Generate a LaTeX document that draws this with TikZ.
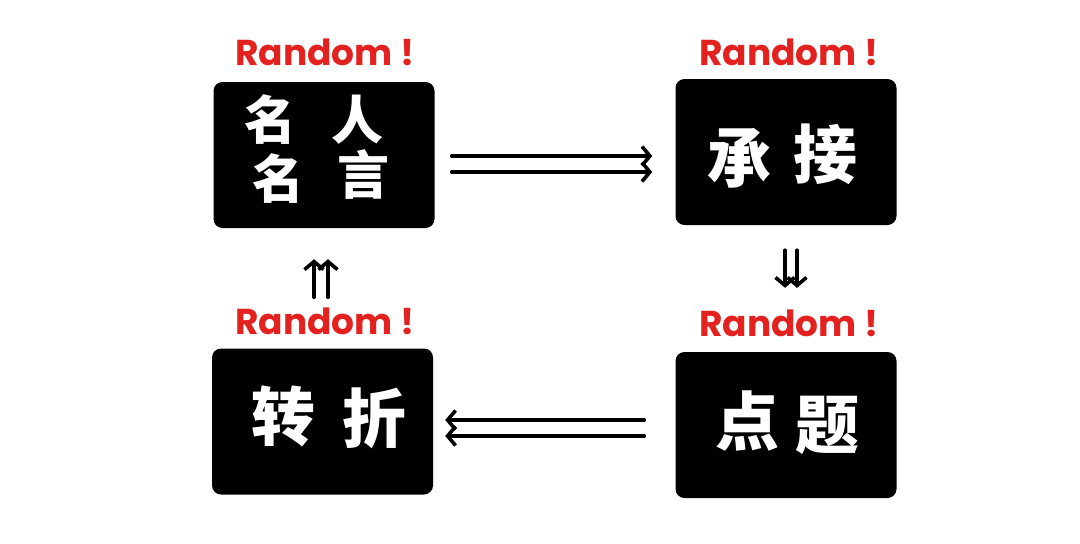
\documentclass[tikz,border=0pt]{standalone}
\usepackage{fontspec}
\setmainfont{Poppins}
\newfontfamily\cjk{Noto Sans CJK SC}
\usetikzlibrary{arrows.meta,calc}
\definecolor{rndred}{HTML}{E3221F}
\begin{document}
\begin{tikzpicture}[x=1pt,y=-1pt,
  box/.style={fill=black, rounded corners=9pt, minimum width=221pt, minimum height=146pt, inner sep=0pt},
  rnd/.style={text=rndred, inner sep=0pt, font=\bfseries\fontsize{36}{36}\selectfont},
  zi/.style={text=white, inner sep=0pt, font=\cjk\bfseries\fontsize{64}{64}\selectfont},
  zis/.style={text=white, inner sep=0pt, font=\cjk\bfseries\fontsize{52}{52}\selectfont},
  arr/.style={line width=3.6pt, line cap=round, -{Straight Barb[length=8pt,width=19pt]}}
]
\useasboundingbox (0,0) rectangle (1080,544);
\fill[white] (0,0) rectangle (1080,544);
% boxes
\node[box] (b1) at (324,155) {};
\node[box] (b2) at (786,152) {};
\node[box] (b3) at (322.5,421.5) {};
\node[box] (b4) at (786,425) {};
% labels
\node[rnd] (r1) at (325,52) {Random !};
\node[rnd] (r2) at (789,52) {Random !};
\node[rnd] (r3) at (325,321) {Random !};
\node[rnd] (r4) at (789,323) {Random !};
% texts
\node[zis] (t1a) at (270,120) {名};
\node[zis] (t1b) at (357,120) {人};
\node[zis] (t1c) at (278,179) {名};
\node[zis] (t1d) at (363,175) {言};
\node[zi] (t2a) at (739,158) {承};
\node[zi] (t2b) at (825,154) {接};
\node[zi] (t3a) at (283,416) {转};
\node[zi] (t3b) at (374,418) {折};
\node[zi] (t4a) at (747,421) {点};
\node[zi] (t4b) at (827,425) {题};
% connectors
\coordinate (a1s) at ($(b1.east)+(17,1)$);
\coordinate (a1e) at ($(b2.west)+(-23,4)$);
\coordinate (a2s) at ($(b1.east)+(17,17)$);
\coordinate (a2e) at ($(b2.west)+(-23,20)$);
\draw[arr] (a1s) -- (a1e);
\draw[arr] (a2s) -- (a2e);
\coordinate (c1s) at ($(b4.west)+(-31,-5)$);
\coordinate (c1e) at ($(b3.east)+(12,-1.5)$);
\coordinate (c2s) at ($(b4.west)+(-31,11)$);
\coordinate (c2e) at ($(b3.east)+(12,14.5)$);
\draw[arr] (c1s) -- (c1e);
\draw[arr] (c2s) -- (c2e);
\coordinate (u1s) at ($(b3.north)+(-8.5,-51)$);
\coordinate (u1e) at ($(b1.south)+(-10,31)$);
\coordinate (u2s) at ($(b3.north)+(5.5,-51)$);
\coordinate (u2e) at ($(b1.south)+(4,31)$);
\draw[arr] (u1s) -- (u1e);
\draw[arr] (u2s) -- (u2e);
\coordinate (d1s) at ($(b2.south)+(-1,25)$);
\coordinate (d1e) at ($(b4.north)+(-1,-64)$);
\coordinate (d2s) at ($(b2.south)+(11,25)$);
\coordinate (d2e) at ($(b4.north)+(11,-64)$);
\draw[arr] (d1s) -- (d1e);
\draw[arr] (d2s) -- (d2e);
\end{tikzpicture}
\end{document}
